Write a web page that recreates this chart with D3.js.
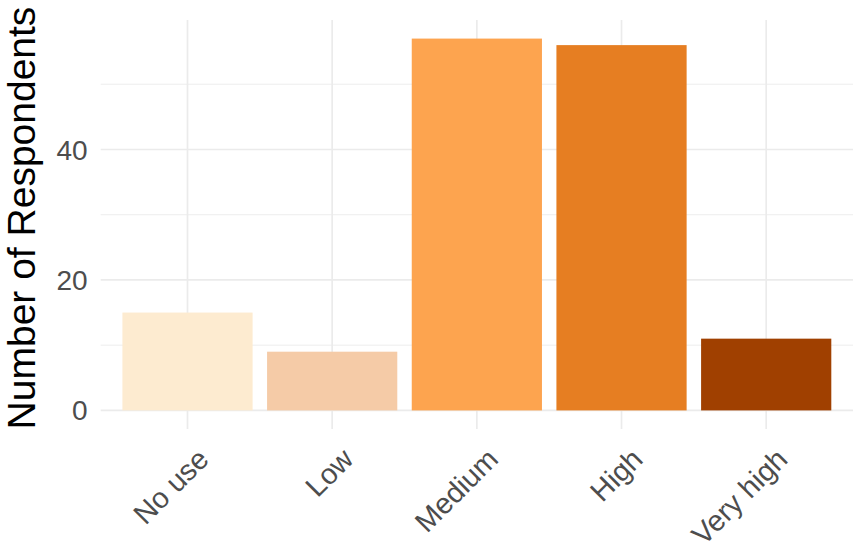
<!DOCTYPE html>
<html>
<head>
<meta charset="utf-8">
<script src="https://cdn.jsdelivr.net/npm/d3@7"></script>
<style>
  html, body { margin: 0; padding: 0; background: #ffffff; }
  svg { display: block; font-family: "Liberation Sans", Arial, sans-serif; }
</style>
</head>
<body>
<svg id="chart" width="856" height="556"></svg>
<script>
const categories = ["No use", "Low", "Medium", "High", "Very high"];
const counts = [15, 9, 57, 56, 11];
const barColors = ["#FDEBD0", "#F5CBA7", "#FDA44F", "#E67E22", "#A04000"];
const yTicks = [0, 20, 40];
const yMinorTicks = [10, 30, 50];
const yTitle = "Number of Respondents";

const svg = d3.select("#chart");
const panel = { left: 100.7, right: 853, top: 20, bottom: 429 };

const yMax = d3.max(counts);
const pad = yMax * 0.05;
const y = d3.scaleLinear().domain([-pad, yMax + pad]).range([panel.bottom, panel.top]);

// discrete expansion of 0.6 units on each side, bar width 0.9
const x = d3.scaleBand()
  .domain(categories)
  .range([panel.left, panel.right])
  .paddingInner(0.1)
  .paddingOuter(0.15);

const center = d => x(d) + x.bandwidth() / 2;

const grid = svg.append("g");
grid.selectAll("line.minor").data(yMinorTicks).join("line")
  .attr("x1", panel.left).attr("x2", panel.right)
  .attr("y1", d => y(d)).attr("y2", d => y(d))
  .attr("stroke", "#EBEBEB").attr("stroke-width", 0.9);
grid.selectAll("line.major").data(yTicks).join("line")
  .attr("x1", panel.left).attr("x2", panel.right)
  .attr("y1", d => y(d)).attr("y2", d => y(d))
  .attr("stroke", "#EBEBEB").attr("stroke-width", 1.7);
grid.selectAll("line.vx").data(categories).join("line")
  .attr("x1", d => center(d)).attr("x2", d => center(d))
  .attr("y1", panel.top).attr("y2", panel.bottom)
  .attr("stroke", "#EBEBEB").attr("stroke-width", 1.7);

svg.append("g").selectAll("rect").data(categories).join("rect")
  .attr("x", d => x(d))
  .attr("width", x.bandwidth())
  .attr("y", (d, i) => y(counts[i]))
  .attr("height", (d, i) => y(0) - y(counts[i]))
  .attr("fill", (d, i) => barColors[i]);

// y axis labels
svg.append("g").selectAll("text").data(yTicks).join("text")
  .attr("x", panel.left - 13)
  .attr("y", d => y(d))
  .attr("dy", "0.36em")
  .attr("text-anchor", "end")
  .attr("font-size", 28)
  .attr("fill", "#4D4D4D")
  .text(d => d);

// x axis labels rotated 45
svg.append("g").selectAll("text").data(categories).join("text")
  .attr("text-anchor", "end")
  .attr("font-size", 29)
  .attr("fill", "#4D4D4D")
  .attr("transform", d => `translate(${center(d) + 23},${461}) rotate(-45)`)
  .text(d => d);

// y title
svg.append("text")
  .attr("transform", `translate(35,218) rotate(-90)`)
  .attr("text-anchor", "middle")
  .attr("font-size", 39)
  .attr("fill", "#000000")
  .text(yTitle);
</script>
</body>
</html>
